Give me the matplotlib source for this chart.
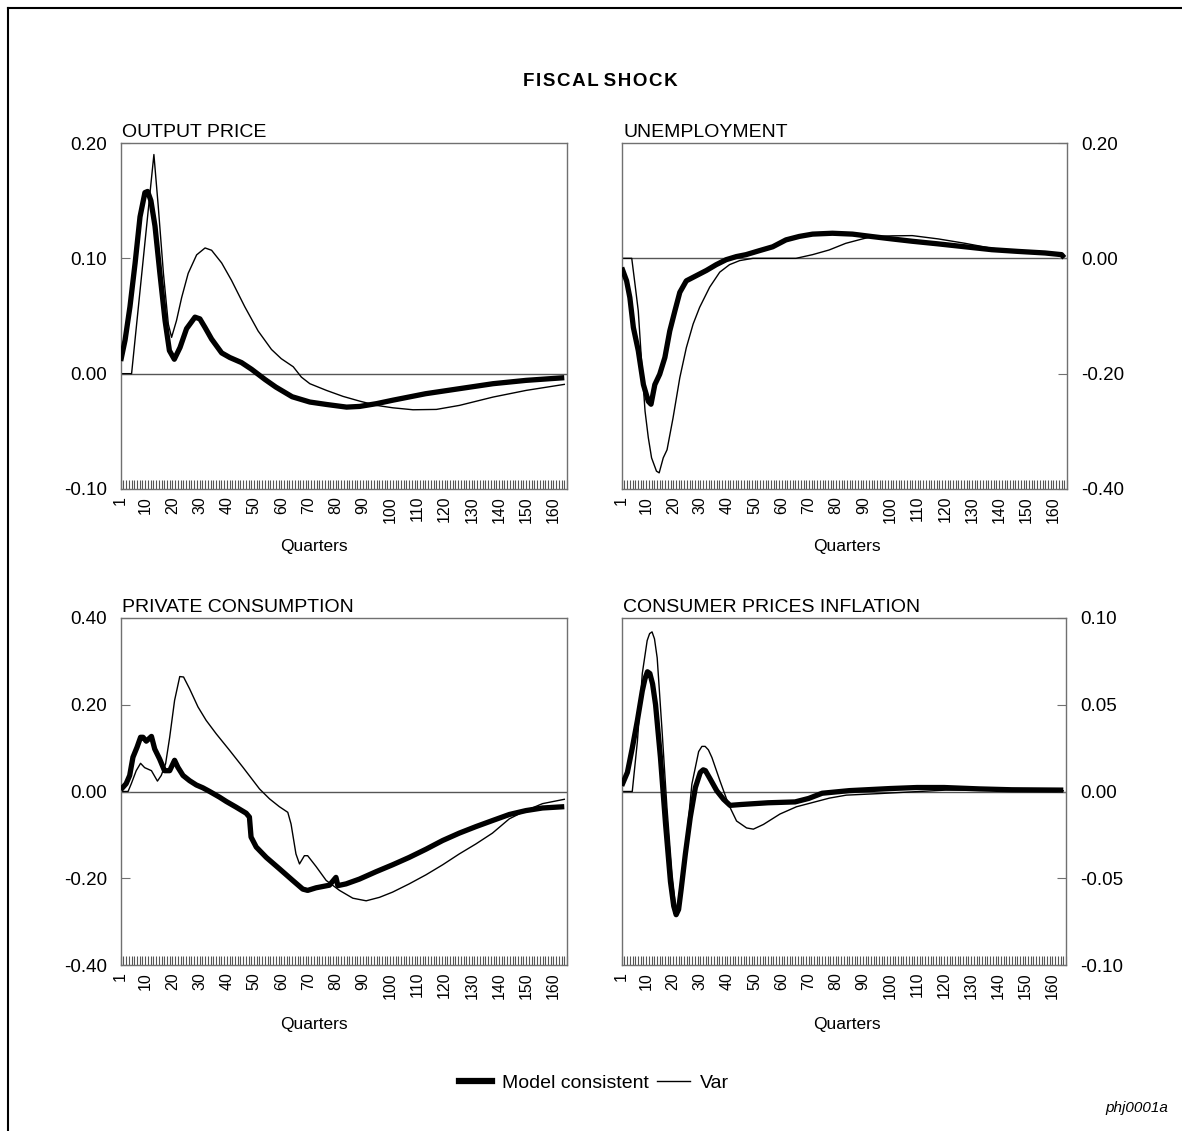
import matplotlib
matplotlib.use("Agg")
import matplotlib.pyplot as plt
from matplotlib.lines import Line2D
from matplotlib.ticker import FixedLocator, MultipleLocator

plt.rcParams['font.family'] = ['Liberation Sans', 'DejaVu Sans']

# ---------------- data ----------------
# OUTPUT PRICE
op_mc_q = [1, 2.6, 4.4, 6.3, 8.1, 9.9, 10.9, 12.1, 13.6, 15.4, 17.3, 18.9, 20.7, 22.8, 25.2, 28.3, 30.1, 32,
           34.4, 38.1, 41.1, 45.4, 49.1, 54, 58, 64, 70.5, 76.6, 84, 88.8, 95, 101, 113, 125.5, 137.8, 150, 164]
op_mc_v = [0.011, 0.029, 0.058, 0.096, 0.136, 0.157, 0.158, 0.150, 0.128, 0.087, 0.046, 0.020, 0.0125,
           0.0227, 0.039, 0.049, 0.0475, 0.040, 0.030, 0.018, 0.014, 0.0096, 0.0038, -0.005, -0.0116,
           -0.020, -0.0246, -0.0267, -0.029, -0.0284, -0.026, -0.023, -0.0174, -0.013, -0.0087, -0.0058,
           -0.0035]
op_var_q = [1, 5, 13.2, 14.8, 16.7, 18.5, 19.7, 21.5, 23.4, 25.8, 28.9, 32, 34.4, 38.1, 41.7, 46.6, 51.5,
            56.4, 60, 64.4, 67.4, 70.5, 76.6, 82.7, 88.8, 95, 101, 108.4, 117, 125.5, 137.8, 150, 164]
op_var_v = [0.0, 0.0, 0.190, 0.145, 0.087, 0.043, 0.0315, 0.046, 0.066, 0.087, 0.103, 0.109, 0.107, 0.096,
            0.081, 0.058, 0.037, 0.021, 0.013, 0.006, -0.003, -0.0087, -0.0145, -0.0197, -0.0238, -0.0275,
            -0.0296, -0.0313, -0.031, -0.0275, -0.0203, -0.0145, -0.0093]

# UNEMPLOYMENT
un_mc_q = [1, 2.8, 4, 5.3, 7.1, 9, 10.8, 11.8, 13.2, 15, 16.9, 18.7, 20.6, 22.4, 24.8, 28.5, 32.2, 35.8,
           39.5, 43.2, 46.8, 51.7, 56.6, 61.5, 66.4, 71.3, 78.6, 86, 93.3, 100.6, 108, 117.7, 127.5,
           137.3, 147, 156.9, 163, 164]
un_mc_v = [-0.016, -0.039, -0.068, -0.120, -0.160, -0.219, -0.248, -0.253, -0.219, -0.201, -0.172, -0.126,
           -0.091, -0.059, -0.039, -0.030, -0.021, -0.011, -0.0023, 0.003, 0.0064, 0.0133, 0.020, 0.032,
           0.038, 0.042, 0.0435, 0.042, 0.0377, 0.0336, 0.0296, 0.025, 0.020, 0.015, 0.012, 0.0093,
           0.0064, 0.001]
un_var_q = [1, 4.7, 5.9, 7.1, 8.3, 9.6, 10.8, 12, 13.8, 14.8, 16.3, 17.7, 19.9, 22.4, 24.8, 27.3, 29.7,
            33.4, 37.1, 40.7, 44.4, 49.3, 56.6, 65.2, 71.3, 77.4, 83.5, 89.6, 93.3, 100.6, 108, 117.7,
            127.5, 137.3, 147, 156.9, 164]
un_var_v = [0.0, 0.0, -0.045, -0.091, -0.178, -0.265, -0.311, -0.346, -0.369, -0.372, -0.346, -0.332,
            -0.277, -0.207, -0.155, -0.114, -0.085, -0.050, -0.024, -0.011, -0.004, 0.0, 0.0, 0.0, 0.0064,
            0.0145, 0.026, 0.0336, 0.0377, 0.039, 0.0394, 0.0336, 0.026, 0.0174, 0.0128, 0.0093, 0.003]

# PRIVATE CONSUMPTION
pc_mc_q = [1, 3, 4.3, 5.5, 7, 8.3, 9.2, 10.4, 12.3, 13.5, 15.3, 17.1, 19, 20.8, 22, 23.9, 26.3, 28.8, 31.2,
           33.7, 37.3, 39.8, 43.4, 47.1, 48.3, 48.9, 50.8, 54.5, 59.3, 64.2, 67.9, 69.7, 72.8, 77.7, 80.1,
           80.8, 83.8, 88.7, 94.8, 100.9, 107, 113.2, 119.3, 125.4, 131.5, 137.6, 143.8, 149.9, 156, 164]
pc_mc_v = [0.004, 0.018, 0.037, 0.079, 0.102, 0.125, 0.125, 0.116, 0.127, 0.098, 0.075, 0.048, 0.048, 0.072,
           0.056, 0.037, 0.025, 0.015, 0.0085, 0.0, -0.013, -0.023, -0.036, -0.050, -0.059, -0.105, -0.128,
           -0.152, -0.178, -0.205, -0.225, -0.228, -0.222, -0.216, -0.198, -0.217, -0.213, -0.202, -0.185,
           -0.169, -0.152, -0.133, -0.113, -0.096, -0.081, -0.067, -0.053, -0.044, -0.038, -0.035]
pc_var_q = [1, 3.7, 4.9, 6.7, 8.3, 9.8, 12.3, 14.5, 15.9, 17.5, 19, 20.8, 22.7, 24.1, 26.3, 29.4, 32.4, 36.1,
            41, 45.9, 52, 55.7, 59.3, 62.4, 63.6, 65.4, 66.7, 68.5, 69.7, 72.8, 76.5, 81.4, 86.3, 91.2,
            96.1, 100.9, 107, 113.2, 119.3, 125.4, 131.5, 137.6, 143.8, 149.9, 156, 164]
pc_var_v = [0.0, 0.0, 0.018, 0.048, 0.065, 0.055, 0.048, 0.024, 0.037, 0.064, 0.125, 0.210, 0.265, 0.264,
            0.237, 0.195, 0.164, 0.133, 0.095, 0.056, 0.006, -0.017, -0.035, -0.048, -0.075, -0.144, -0.167,
            -0.148, -0.148, -0.173, -0.205, -0.228, -0.246, -0.252, -0.244, -0.232, -0.213, -0.192, -0.169,
            -0.144, -0.121, -0.096, -0.063, -0.044, -0.028, -0.018]

# CONSUMER PRICES INFLATION
ci_mc_q = [1, 3.1, 4.9, 6.8, 8.6, 9.6, 10.5, 11.4, 12.4, 13.5, 15.3, 17.2, 19, 20.2, 21.1, 22, 22.9, 24.5,
           26.3, 28.2, 30, 31.1, 31.9, 33.7, 36.1, 38.6, 41, 45, 55, 65, 70, 75, 85, 100, 110, 120, 133,
           145, 164]
ci_mc_v = [0.0033, 0.011, 0.025, 0.041, 0.058, 0.065, 0.069, 0.068, 0.062, 0.050, 0.0196, -0.019, -0.052,
           -0.066, -0.071, -0.068, -0.057, -0.036, -0.015, 0.0023, 0.011, 0.0125, 0.012, 0.0071, 0.0004,
           -0.0045, -0.008, -0.0075, -0.0065, -0.006, -0.004, -0.001, 0.0005, 0.0017, 0.0023, 0.0023,
           0.0015, 0.001, 0.0008]
ci_var_q = [1, 4.9, 6.8, 8.6, 10.4, 11.3, 12.2, 13.1, 14.1, 15.9, 17.7, 19.6, 20.6, 21.4, 22.2, 23.2, 25.1,
            26.9, 29.4, 30.6, 31.8, 33, 34.3, 37.3, 40.4, 43.4, 47.1, 49.6, 53.3, 59.4, 65.5, 71.6, 77.7,
            83.9, 96.1, 108.3, 120.6, 132.8, 145, 164]
ci_var_v = [0.0, 0.0, 0.029, 0.068, 0.087, 0.091, 0.092, 0.088, 0.077, 0.035, -0.0092, -0.048, -0.062,
            -0.069, -0.066, -0.053, -0.025, 0.0042, 0.023, 0.026, 0.026, 0.024, 0.0196, 0.006, -0.0073,
            -0.017, -0.021, -0.0217, -0.019, -0.013, -0.0088, -0.0063, -0.0038, -0.0021, -0.0012, -0.0002,
            0.0008, 0.0008, 0.0008, 0.0004]

titles = ["OUTPUT PRICE", "UNEMPLOYMENT", "PRIVATE CONSUMPTION", "CONSUMER PRICES INFLATION"]
yticks = [[-0.10, 0.00, 0.10, 0.20], [-0.40, -0.20, 0.00, 0.20],
          [-0.40, -0.20, 0.00, 0.20, 0.40], [-0.10, -0.05, 0.00, 0.05, 0.10]]
xtick_vals = [1, 10, 20, 30, 40, 50, 60, 70, 80, 90, 100, 110, 120, 130, 140, 150, 160]
series_label = ["Model consistent", "Var"]

panels = [
    (op_mc_q, op_mc_v, op_var_q, op_var_v),
    (un_mc_q, un_mc_v, un_var_q, un_var_v),
    (pc_mc_q, pc_mc_v, pc_var_q, pc_var_v),
    (ci_mc_q, ci_mc_v, ci_var_q, ci_var_v),
]

# ---------------- layout ----------------
W, H = 1182, 1131
fig = plt.figure(figsize=(W / 100, H / 100), dpi=100)

def fx(px):
    return px / W

def fy(py):
    return 1 - py / H

boxes = [
    (120.7, 143, 567, 489),
    (621.7, 143, 1067, 489),
    (120.7, 618, 567, 965),
    (621.7, 618, 1066, 965),
]
qlabel_x = [314, 847, 314, 847]
qlabel_y = [547, 547, 1025, 1025]
title_y = [137, 137, 612, 612]

spine_col = "#707070"
for i, (x0, y0, x1, y1) in enumerate(boxes):
    ax = fig.add_axes([fx(x0), fy(y1), fx(x1 - x0), (y1 - y0) / H])
    mq, mv, vq, vv = panels[i]
    ax.axhline(0, color="#555555", lw=1.0, zorder=1)
    ax.plot(vq, vv, color="black", lw=1.0, zorder=2, solid_joinstyle="round")
    ax.plot(mq, mv, color="black", lw=3.8, zorder=3, solid_joinstyle="round", solid_capstyle="butt")
    ax.set_xlim(1, 165)
    yt = yticks[i]
    ax.set_ylim(yt[0], yt[-1])
    ax.set_yticks(yt)
    ax.set_yticklabels([f"{v:.2f}" for v in yt])
    ax.xaxis.set_major_locator(FixedLocator(xtick_vals))
    ax.set_xticklabels([str(v) for v in xtick_vals], rotation=90)
    ax.xaxis.set_minor_locator(MultipleLocator(1))
    for s in ax.spines.values():
        s.set_color(spine_col)
        s.set_linewidth(1.0)
    ax.tick_params(axis="x", which="both", direction="in", length=6.5, width=0.8, color="#555555",
                   labelsize=11.5, pad=5)
    right = i in (1, 3)
    ax.tick_params(axis="y", which="both", direction="in", length=6.5, width=0.8, color=spine_col,
                   labelsize=13.5, pad=10, left=not right, labelleft=not right,
                   right=right, labelright=right)
    fig.text(fx(x0 + 1.5), fy(title_y[i]), titles[i], fontsize=14, ha="left", va="baseline")
    fig.text(fx(qlabel_x[i]), fy(qlabel_y[i]), "Quarters", fontsize=12.5, ha="center", va="center")

fig.text(fx(600), fy(81), "\u200a".join("FISCAL") + " " + "\u200a".join("SHOCK"),
         fontsize=13.5, fontweight="bold", ha="center", va="center")

handles = [Line2D([], [], color="black", lw=4.5), Line2D([], [], color="black", lw=1.0)]
fig.legend(handles, series_label, loc="center", bbox_to_anchor=(fx(594), fy(1083)), ncol=2,
           frameon=False, fontsize=14, handlelength=1.7, handletextpad=0.5, columnspacing=0.4)

fig.text(fx(1168), fy(1108), "phj0001a", fontsize=11, style="italic", ha="right", va="center")

# page frame (left and top edges)
fig.add_artist(Line2D([fx(8), fx(8)], [fy(8), 0], transform=fig.transFigure, color="black", lw=1.5))
fig.add_artist(Line2D([fx(8), 1], [fy(8), fy(8)], transform=fig.transFigure, color="black", lw=1.5))

fig.savefig("out.png", dpi=100, facecolor="white")
